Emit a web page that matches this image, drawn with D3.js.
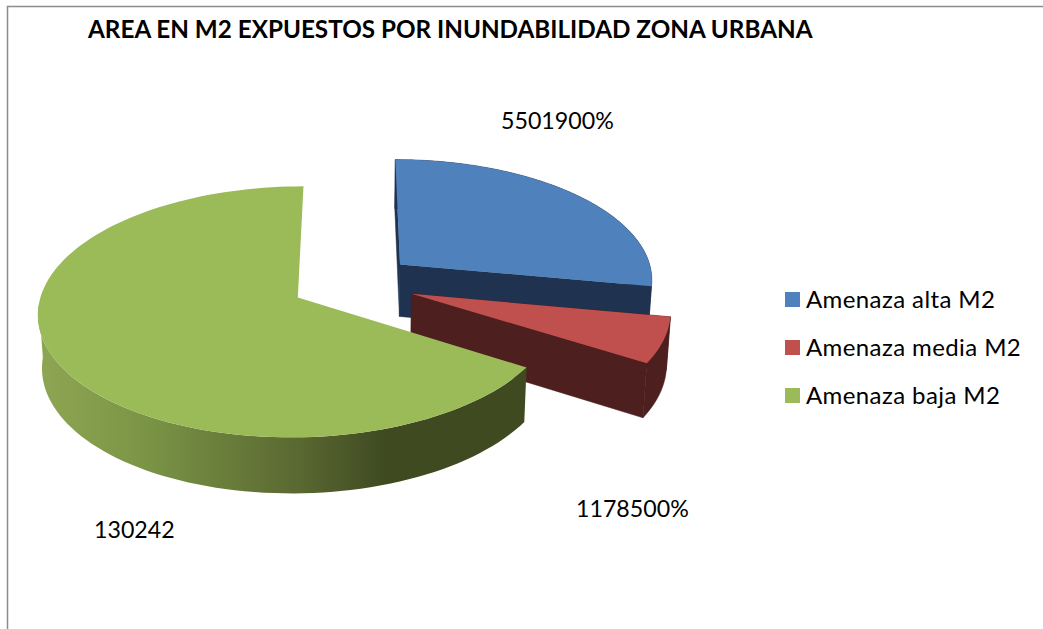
<!DOCTYPE html>
<html>
<head>
<meta charset="utf-8">
<script src="https://cdn.jsdelivr.net/npm/d3@7"></script>
<style>
  html, body { margin: 0; padding: 0; background: #fff; }
  svg { display: block; }
  text { font-family: Lato, "Open Sans", sans-serif; fill: #000; }
</style>
</head>
<body>
<div id="chart"></div>
<script>
const titleText = 'AREA EN M2 EXPUESTOS POR INUNDABILIDAD ZONA URBANA';
const categories = ['Amenaza alta M2', 'Amenaza media M2', 'Amenaza baja M2'];
const seriesValues = [55019, 11785, 130242];
const dataLabels = ['5501900%', '1178500%', '130242'];
const topColors = ['#4f81bd', '#c0504d', '#9bbb59'];
const wallColors = ['#1f3350', '#4d1f1f', 'url(#greenWall)'];

const width = 1043;
const height = 629;

// pie plane -> screen, with a bit of perspective like the 3D pie in Excel
const centerX = 353;
const centerY = 283;
const radiusX = 254;
const radiusY = 120.6;
const perspective = 0.1127;
const explode = 0.245;
const depth = 52.5;

function project(x, y) {
  const w = 1 - perspective * y;
  return [centerX + radiusX * x / w, centerY + radiusY * y / w];
}

function lower(x, y) {
  const p = project(x, y);
  return [centerX + (p[0] - centerX) * 0.987, p[1] + depth * (1 + 0.06 * y)];
}

const svg = d3.select('#chart')
  .append('svg')
  .attr('width', width)
  .attr('height', height);

const grad = svg.append('defs').append('linearGradient')
  .attr('id', 'greenWall')
  .attr('gradientUnits', 'userSpaceOnUse')
  .attr('x1', 40).attr('y1', 0)
  .attr('x2', 385).attr('y2', 0);
grad.append('stop').attr('offset', '0').attr('stop-color', '#8ea653');
grad.append('stop').attr('offset', '0.3').attr('stop-color', '#7b9546');
grad.append('stop').attr('offset', '0.75').attr('stop-color', '#5a6831');
grad.append('stop').attr('offset', '1').attr('stop-color', '#3f4a21');

// chart frame, only left and top show in the picture
svg.append('path')
  .attr('d', `M7.5,${height}V6.5H${width}`)
  .attr('fill', 'none')
  .attr('stroke', '#8c8c8c')
  .attr('stroke-width', 1.5);

svg.append('text')
  .attr('x', 88)
  .attr('y', 38)
  .attr('font-size', 24.25)
  .attr('font-weight', 700)
  .text(titleText);

const line = d3.line();
const arcs = d3.pie().sort(null)(seriesValues);
const plot = svg.append('g');

arcs.forEach((arc, i) => {
  const mid = (arc.startAngle + arc.endAngle) / 2;
  const ox = explode * Math.sin(mid);
  const oy = -explode * Math.cos(mid);
  const angles = d3.range(0, 121).map(n => arc.startAngle + (arc.endAngle - arc.startAngle) * n / 120);
  const rim = angles.map(a => [ox + Math.sin(a), oy - Math.cos(a)]);
  const g = plot.append('g');

  // walls first, the top goes over them. the green cut faces stay hidden
  if (i < 2) {
    [rim[0], rim[rim.length - 1]].forEach(end => {
      g.append('path')
        .attr('d', line([project(ox, oy), project(end[0], end[1]), lower(end[0], end[1]), lower(ox, oy)]) + 'Z')
        .attr('fill', wallColors[i])
        .attr('stroke', wallColors[i])
        .attr('stroke-width', 0.5);
    });
  }

  // green only shows the front of its rim, the back would poke out past the cut
  const wallRim = i === 2 ? rim.filter(p => p[1] - oy > 0.05) : rim;
  const outer = wallRim.map(p => project(p[0], p[1]))
    .concat(wallRim.slice().reverse().map(p => lower(p[0], p[1])));
  g.append('path')
    .attr('d', line(outer) + 'Z')
    .attr('fill', wallColors[i])
    .attr('stroke', i < 2 ? wallColors[i] : 'none')
    .attr('stroke-width', 0.5);

  g.append('path')
    .attr('d', line([project(ox, oy)].concat(rim.map(p => project(p[0], p[1])))) + 'Z')
    .attr('fill', topColors[i]);
});

const labelX = [501, 576, 94];
const labelY = [128.5, 517, 538];
dataLabels.forEach((t, i) => {
  svg.append('text')
    .attr('x', labelX[i])
    .attr('y', labelY[i])
    .attr('font-size', 23.2)
    .text(t);
});

const legendY = d3.scalePoint().domain(categories).range([299.5, 395.5]);
const legend = svg.selectAll('.legend')
  .data(categories)
  .join('g')
  .attr('class', 'legend')
  .attr('transform', d => `translate(785,${legendY(d)})`);
legend.append('rect')
  .attr('x', 0).attr('y', -7.5)
  .attr('width', 15).attr('height', 15)
  .attr('fill', (d, i) => topColors[i]);
legend.append('text')
  .attr('x', 21)
  .attr('y', 8)
  .attr('font-size', 24)
  .attr('letter-spacing', 0.4)
  .text(d => d);
</script>
</body>
</html>
